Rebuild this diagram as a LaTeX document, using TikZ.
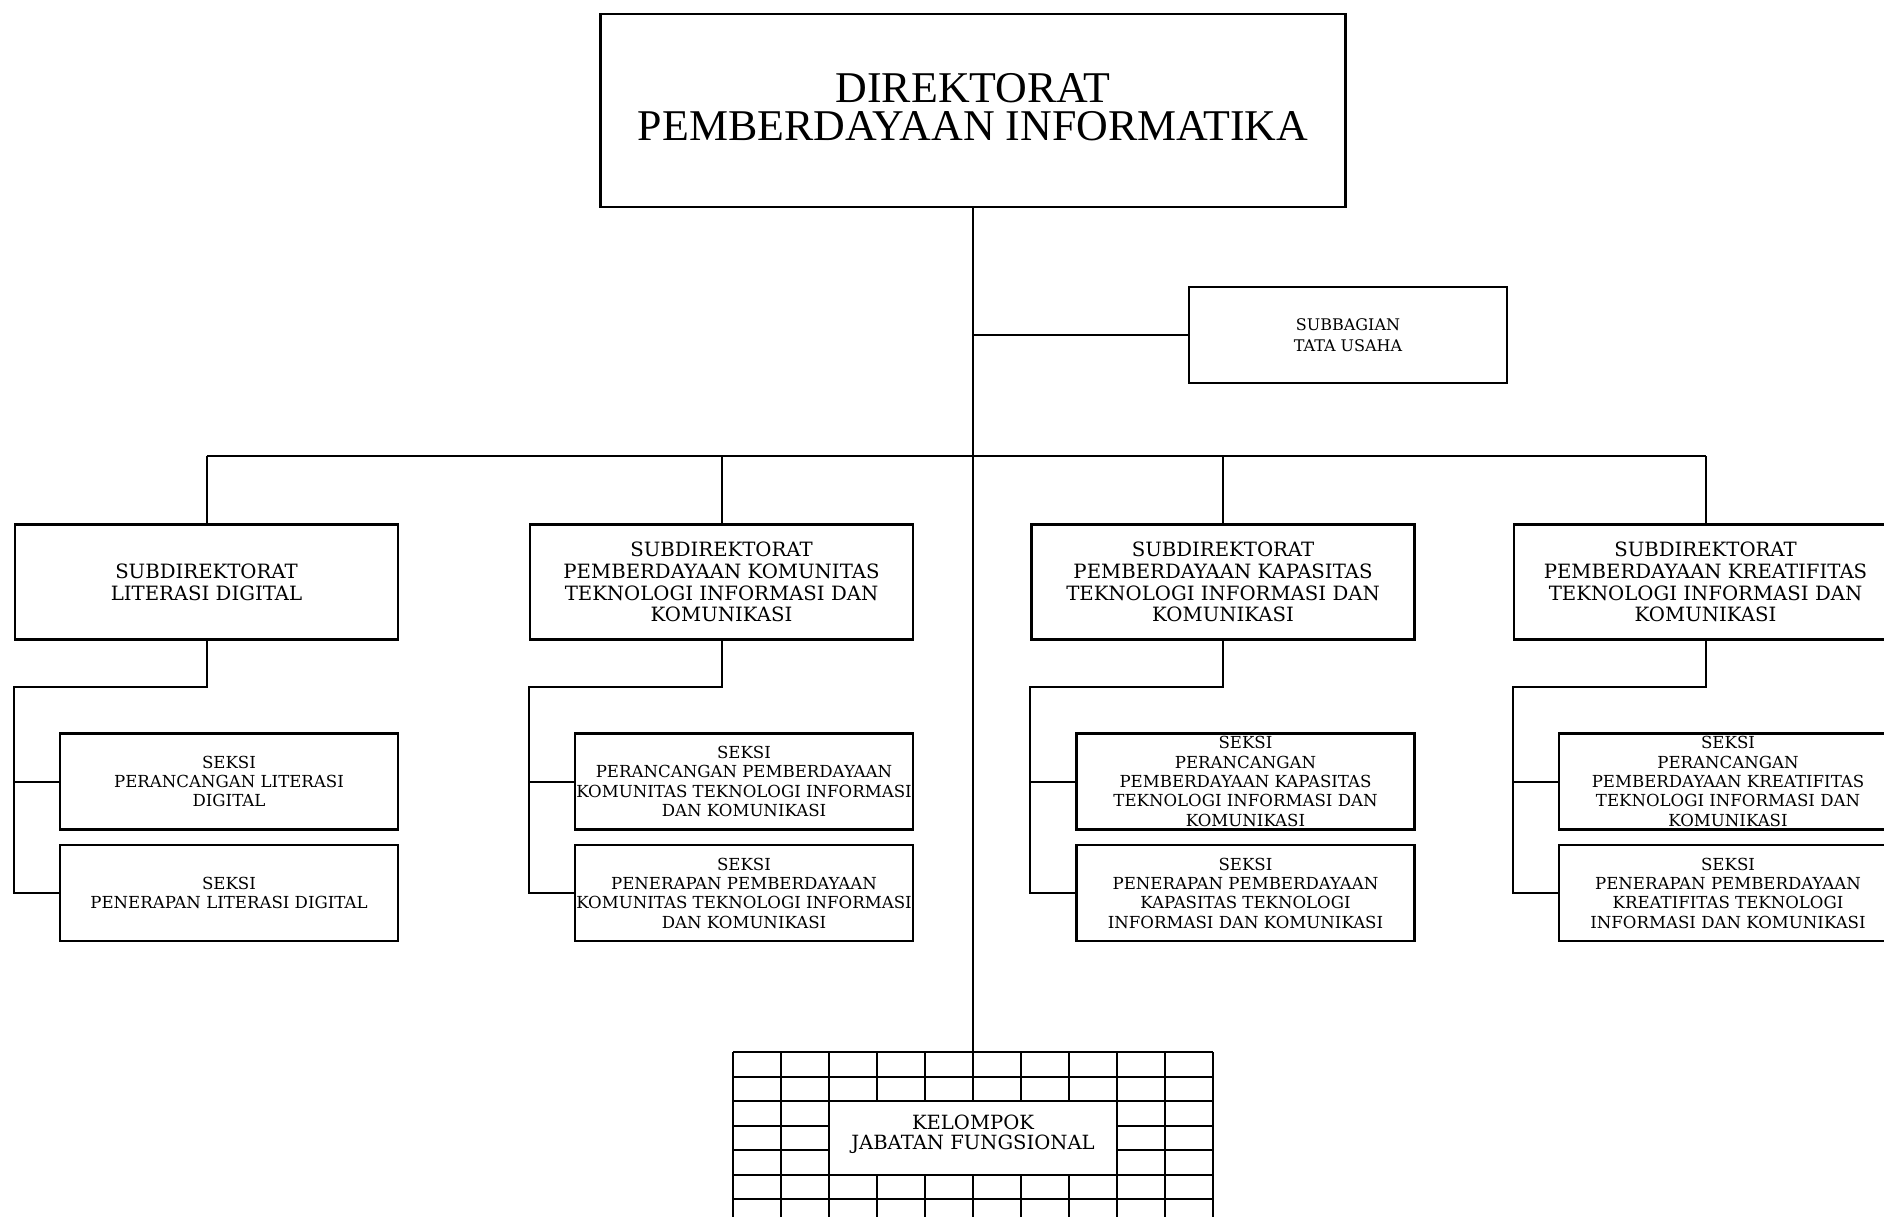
\documentclass[tikz,border=0pt]{standalone}
\usepackage{fontspec}
\newfontfamily\titlefont{Liberation Serif}
\newfontfamily\boxfont{DejaVu Serif}
\newcommand{\dstrut}[1]{\rule[-#1]{0pt}{#1}}
\begin{document}
\begin{tikzpicture}[x=1pt,y=-1pt,
  box/.style={draw, line width=2.3pt, inner sep=0pt, align=center, fill=white},
  subdir/.style={box, minimum width=383pt, minimum height=115pt, font=\boxfont\fontsize{19.7}{21.7}\selectfont},
  seksi/.style={box, minimum width=338pt, minimum height=96pt, font=\boxfont\fontsize{16.6}{19.3}\selectfont},
  conn/.style={line width=2pt},
  gridline/.style={line width=2pt}]
\useasboundingbox (0,0) rectangle (1884,1217);
\clip (0,0) rectangle (1884,1217);
\fill[white] (0,0) rectangle (1884,1217);

% main
\node[box, minimum width=745pt, minimum height=193pt, font=\titlefont\fontsize{43.9}{38}\selectfont] (dir) at (973,110.5) {DIREKTORAT\\PEMBERDAYAAN INFORMATIKA\dstrut{8pt}};
\node[box, minimum width=318pt, minimum height=96pt, font=\boxfont\fontsize{16}{20.5}\selectfont] (sb) at (1348,335) {SUBBAGIAN\\TATA USAHA};

% subdirektorat
\node[subdir] (s1) at (206.5,582) {SUBDIREKTORAT\\LITERASI DIGITAL};
\node[subdir] (s2) at (721.5,582) {SUBDIREKTORAT\\PEMBERDAYAAN KOMUNITAS\\TEKNOLOGI INFORMASI DAN\\KOMUNIKASI};
\node[subdir] (s3) at (1223,582) {SUBDIREKTORAT\\PEMBERDAYAAN KAPASITAS\\TEKNOLOGI INFORMASI DAN\\KOMUNIKASI};
\node[subdir] (s4) at (1705.5,582) {SUBDIREKTORAT\\PEMBERDAYAAN KREATIFITAS\\TEKNOLOGI INFORMASI DAN\\KOMUNIKASI};

% seksi
\node[seksi] (k1a) at (229,781.5) {SEKSI\\PERANCANGAN LITERASI\\DIGITAL};
\node[seksi] (k1b) at (229,893) {SEKSI\\PENERAPAN LITERASI DIGITAL};
\node[seksi] (k2a) at (744,781.5) {SEKSI\\PERANCANGAN PEMBERDAYAAN\\KOMUNITAS TEKNOLOGI INFORMASI\\DAN KOMUNIKASI};
\node[seksi] (k2b) at (744,893) {SEKSI\\PENERAPAN PEMBERDAYAAN\\KOMUNITAS TEKNOLOGI INFORMASI\\DAN KOMUNIKASI};
\node[seksi] (k3a) at (1245.5,781.5) {SEKSI\\PERANCANGAN\\PEMBERDAYAAN KAPASITAS\\TEKNOLOGI INFORMASI DAN\\KOMUNIKASI};
\node[seksi] (k3b) at (1245.5,893) {SEKSI\\PENERAPAN PEMBERDAYAAN\\KAPASITAS TEKNOLOGI\\INFORMASI DAN KOMUNIKASI};
\node[seksi] (k4a) at (1728,781.5) {SEKSI\\PERANCANGAN\\PEMBERDAYAAN KREATIFITAS\\TEKNOLOGI INFORMASI DAN\\KOMUNIKASI};
\node[seksi] (k4b) at (1728,893) {SEKSI\\PENERAPAN PEMBERDAYAAN\\KREATIFITAS TEKNOLOGI\\INFORMASI DAN KOMUNIKASI};

% kelompok grid
\foreach \i in {0,...,10} \draw[gridline] (733+48*\i,1052) -- (733+48*\i,1240);
\foreach \j in {0,...,7} \draw[gridline] (733,1052+24.5*\j) -- (1213,1052+24.5*\j);
\node[box, line width=2pt, minimum width=288pt, minimum height=73.5pt, font=\boxfont\fontsize{19.6}{20.5}\selectfont] (kjf) at (973,1137.75) {KELOMPOK\\JABATAN FUNGSIONAL\dstrut{11pt}};
\coordinate (gtop) at (973,1052);
\coordinate (bus) at (973,456);

% connectors
\draw[conn] (dir.south) -- (gtop);
\draw[conn] (dir.south |- sb.west) -- (sb.west);
\draw[conn] (s1.north |- bus) -- (s4.north |- bus);
\foreach \s in {s1,s2,s3,s4} \draw[conn] (\s.north |- bus) -- (\s.north);
\foreach \s/\a/\b in {s1/k1a/k1b, s2/k2a/k2b, s3/k3a/k3b, s4/k4a/k4b} {
  \draw[conn] (\s.south) -- ++(0,46.5) -| (\s.south west |- \b.west) -- (\b.west);
  \draw[conn] (\s.south west |- \a.west) -- (\a.west);
}
\end{tikzpicture}
\end{document}
